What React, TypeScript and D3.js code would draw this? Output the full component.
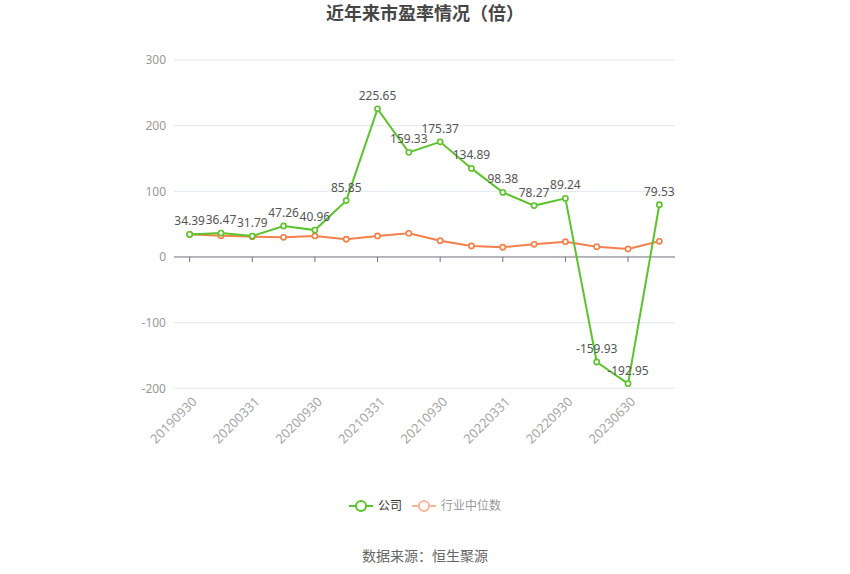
import React from "react";
import * as d3 from "d3";

const categories = [
  "20190930", "20191231", "20200331", "20200630", "20200930", "20201231",
  "20210331", "20210630", "20210930", "20211231", "20220331", "20220630",
  "20220930", "20221231", "20230630", "20230930",
];
const companyValues = [
  34.39, 36.47, 31.79, 47.26, 40.96, 85.85, 225.65, 159.33, 175.37, 134.89,
  98.38, 78.27, 89.24, -159.93, -192.95, 79.53,
];
const industryValues = [
  34.5, 32.5, 31, 30, 32, 27, 32, 36, 24.8, 16.7, 14.8, 19.3, 23.3, 15.7, 12.2, 23.9,
];
const yTicks = [-200, -100, 0, 100, 200, 300];
const seriesNames = ["公司", "行业中位数"];

const W = 850;
const H = 574;
const FONT = "'Noto Sans', 'Noto Sans CJK SC', sans-serif";
const GREEN = "#5cc42b";
const ORANGE = "#f4804b";

export default function App() {
  const left = 174;
  const right = 675;
  const x = d3
    .scaleBand<string>()
    .domain(categories)
    .range([left, right])
    .paddingInner(0)
    .paddingOuter(0);
  const cx = (c: string) => (x(c) as number) + x.bandwidth() / 2;
  const y = d3.scaleLinear().domain([-200, 300]).range([388.3, 60]);

  const line = d3
    .line<number>()
    .x((_, i) => cx(categories[i]))
    .y((d) => y(d));

  return (
    <svg
      width={W}
      height={H}
      style={{ position: "absolute", left: 0, top: 0, fontFamily: FONT }}
    >
      <rect width={W} height={H} fill="#fff" />
      <text
        x={425}
        y={20}
        textAnchor="middle"
        fontSize={18}
        fontWeight="bold"
        fill="#464646"
      >
        近年来市盈率情况（倍）
      </text>

      {yTicks.map((t) => (
        <g key={t}>
          {t !== 0 && (
            <line
              x1={left}
              x2={right}
              y1={y(t)}
              y2={y(t)}
              stroke="#e0e6f1"
              strokeWidth={1}
            />
          )}
          <text
            x={166}
            y={y(t)}
            dy="0.35em"
            textAnchor="end"
            fontSize={12}
            fill="#999"
          >
            {t}
          </text>
        </g>
      ))}

      <line x1={left} x2={right} y1={y(0)} y2={y(0)} stroke="#6e7079" strokeWidth={1} />
      {categories.map((c, i) =>
        i % 2 === 0 ? (
          <line
            key={c}
            x1={cx(c)}
            x2={cx(c)}
            y1={y(0)}
            y2={y(0) + 5}
            stroke="#6e7079"
            strokeWidth={1}
          />
        ) : null
      )}

      {categories.map((c, i) =>
        i % 2 === 0 ? (
          <text
            key={c}
            transform={`translate(${cx(c) + 5},${y(-200) + 11}) rotate(-45)`}
            textAnchor="end"
            dy="0.35em"
            fontSize={13}
            fill="#a6a6a6"
          >
            {c}
          </text>
        ) : null
      )}

      <path d={line(industryValues) || ""} fill="none" stroke={ORANGE} strokeWidth={2} />
      {industryValues.map((v, i) => (
        <circle
          key={i}
          cx={cx(categories[i])}
          cy={y(v)}
          r={2.6}
          fill="#fff"
          stroke={ORANGE}
          strokeWidth={1.6}
        />
      ))}

      <path d={line(companyValues) || ""} fill="none" stroke={GREEN} strokeWidth={2} />
      {companyValues.map((v, i) => (
        <circle
          key={i}
          cx={cx(categories[i])}
          cy={y(v)}
          r={2.6}
          fill="#fff"
          stroke={GREEN}
          strokeWidth={1.6}
        />
      ))}
      {companyValues.map((v, i) => (
        <text
          key={i}
          x={cx(categories[i])}
          y={y(v) - 9}
          textAnchor="middle"
          fontSize={12}
          fill="#555"
        >
          {v.toFixed(2)}
        </text>
      ))}

      <g>
        <line x1={349} x2={373} y1={506} y2={506} stroke={GREEN} strokeWidth={2} />
        <circle cx={361} cy={506} r={5} fill="#fff" stroke={GREEN} strokeWidth={2} />
        <text x={378} y={506} dy="0.35em" fontSize={12} fill="#333">
          {seriesNames[0]}
        </text>
        <line x1={412} x2={436} y1={506} y2={506} stroke="#fbb596" strokeWidth={2} />
        <circle cx={424} cy={506} r={5} fill="#fff" stroke="#fbb596" strokeWidth={2} />
        <text x={441} y={506} dy="0.35em" fontSize={12} fill="#999">
          {seriesNames[1]}
        </text>
      </g>

      <text x={425} y={556} dy="0.35em" textAnchor="middle" fontSize={14} fill="#666">
        数据来源：恒生聚源
      </text>
    </svg>
  );
}
